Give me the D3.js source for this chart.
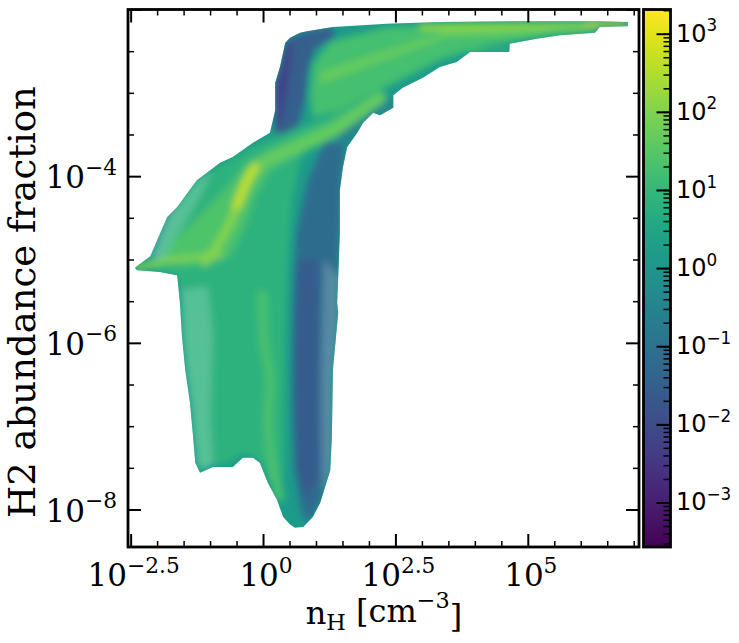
<!DOCTYPE html>
<html lang="en">
<head>
<meta charset="utf-8">
<title>H2 abundance fraction vs nH</title>
<script src="https://d3js.org/d3.v7.min.js"></script>
<style>
  body { margin: 0; background: #fff; }
  svg text { font-family: "DejaVu Serif", serif; fill: #000; }
  svg .cb text { font-family: "DejaVu Sans", sans-serif; }
</style>
</head>
<body>
<script>
// outlines of the 2d histogram as [log10 nH, log10 fH2]
const envelope = [[0.51,-2.34],[0.70,-2.28],[0.83,-2.26],[1.32,-2.21],[2.34,-2.17],[3.34,-2.15],[4.85,-2.14],[6.36,-2.14],[6.89,-2.15],[6.89,-2.20],[6.36,-2.21],[6.27,-2.28],[5.61,-2.31],[5.17,-2.35],[4.66,-2.41],[4.65,-2.51],[3.91,-2.51],[3.66,-2.63],[3.34,-2.69],[3.02,-2.82],[2.64,-2.94],[2.46,-3.03],[2.46,-3.18],[2.21,-3.27],[2.08,-3.24],[1.89,-3.36],[1.78,-3.48],[1.59,-3.65],[1.51,-3.89],[1.45,-4.17],[1.45,-4.68],[1.42,-5.21],[1.40,-5.52],[1.42,-5.64],[1.32,-6.32],[1.30,-7.13],[1.27,-7.53],[1.08,-7.92],[0.94,-8.09],[0.76,-8.21],[0.60,-8.22],[0.51,-8.18],[0.38,-8.09],[0.26,-7.88],[0.09,-7.68],[-0.06,-7.44],[-0.19,-7.38],[-0.38,-7.38],[-0.57,-7.49],[-0.94,-7.49],[-1.19,-7.56],[-1.28,-7.44],[-1.32,-7.13],[-1.38,-6.72],[-1.47,-6.32],[-1.53,-5.93],[-1.57,-5.52],[-1.62,-5.19],[-1.95,-5.15],[-2.38,-5.13],[-2.42,-5.10],[-2.13,-4.96],[-1.81,-4.49],[-1.62,-4.37],[-1.25,-4.05],[-1.06,-3.96],[-0.81,-3.84],[-0.57,-3.77],[-0.19,-3.60],[0.13,-3.48],[0.23,-3.21],[0.23,-2.88],[0.32,-2.69],[0.42,-2.40]];

const darkRight = [[1.17,-3.57],[1.55,-3.63],[1.49,-3.93],[1.45,-4.68],[1.42,-5.21],[1.42,-5.64],[1.32,-6.32],[1.30,-7.13],[1.27,-7.53],[1.08,-7.92],[0.94,-8.09],[0.79,-8.15],[0.70,-7.95],[0.60,-7.53],[0.55,-6.69],[0.57,-5.49],[0.64,-4.65],[0.85,-4.05]];
const darkCore = [[0.66,-5.01],[1.04,-5.01],[1.04,-7.64],[0.79,-7.88],[0.64,-7.52],[0.59,-6.09]];
const darkTop = [[0.42,-2.40],[0.51,-2.34],[0.70,-2.28],[0.83,-2.26],[1.32,-2.21],[1.36,-2.34],[0.98,-2.46],[0.85,-2.73],[0.79,-3.09],[0.66,-3.39],[0.42,-3.54],[0.25,-3.51],[0.23,-3.21],[0.23,-2.88],[0.32,-2.69]];
const darkEdge = [[0.42,-2.40],[0.55,-2.37],[0.51,-2.72],[0.42,-3.08],[0.32,-3.45],[0.23,-3.42],[0.23,-2.88],[0.32,-2.69]];
const rimUpper = [[2.46,-3.03],[2.46,-3.18],[2.21,-3.27],[1.89,-3.36],[1.78,-3.48],[1.59,-3.65],[1.36,-3.56],[1.64,-3.31],[2.12,-3.14]];
const greenMid = [[-2.32,-5.08],[-2.00,-4.98],[-1.85,-4.65],[-1.57,-4.29],[-1.19,-4.02],[-0.72,-3.83],[-0.19,-3.64],[0.23,-3.53],[0.70,-3.41],[1.27,-3.26],[1.83,-3.09],[2.17,-3.00],[2.02,-3.18],[1.55,-3.39],[0.98,-3.57],[0.70,-3.81],[0.55,-4.29],[0.47,-5.01],[0.42,-5.85],[0.40,-6.93],[0.38,-7.64],[0.28,-7.82],[0.09,-7.64],[-0.06,-7.43],[-0.25,-7.34],[-0.43,-7.34],[-0.59,-7.43],[-0.94,-7.47],[-1.19,-7.53],[-1.26,-7.41],[-1.30,-7.13],[-1.36,-6.72],[-1.45,-6.32],[-1.51,-5.93],[-1.55,-5.52],[-1.61,-5.22],[-1.95,-5.15]];
const greenBright = [[-1.95,-5.03],[-1.66,-4.77],[-1.19,-4.47],[-0.72,-4.17],[-0.34,-3.87],[0.13,-3.69],[0.70,-3.51],[1.27,-3.35],[1.83,-3.15],[2.12,-3.09],[1.93,-3.27],[1.36,-3.51],[0.70,-3.71],[0.13,-3.93],[-0.15,-4.23],[-0.34,-4.59],[-0.62,-4.95],[-0.91,-5.03],[-1.47,-5.08]];
const greenUpper = [[1.27,-2.38],[2.34,-2.21],[3.34,-2.18],[6.36,-2.17],[6.36,-2.21],[5.23,-2.33],[4.10,-2.45],[3.34,-2.61],[2.59,-2.85],[2.02,-3.03],[1.45,-3.21],[0.93,-3.30],[0.89,-3.03],[0.94,-2.66]];
const greenBand = [[1.08,-2.75],[2.21,-2.51],[3.53,-2.25],[3.34,-2.37],[2.21,-2.63],[1.08,-2.90]];
const streakLow = [[3.72,-2.47],[4.65,-2.47],[4.65,-2.51],[3.72,-2.52]];
const streakMid = [[3.34,-2.24],[6.27,-2.25],[6.27,-2.28],[3.34,-2.33]];
const streakTop = [[2.96,-2.17],[6.89,-2.15],[6.89,-2.19],[5.61,-2.22],[4.10,-2.24],[2.96,-2.25]];
const streakTip = [[6.08,-2.15],[6.89,-2.15],[6.89,-2.19],[6.08,-2.19]];
// thinly populated fringes, where gaps between cells show through
const sparseLeft = [[-1.53,-5.37],[-1.05,-5.33],[-0.95,-5.9],[-1.0,-6.9],[-0.94,-7.47],[-1.19,-7.53],[-1.26,-7.41],[-1.30,-7.13],[-1.36,-6.72],[-1.45,-6.32],[-1.51,-5.93]];
const sparseMid = [[-2.13,-4.96],[-1.81,-4.49],[-1.25,-4.05],[-0.95,-3.92],[-1.2,-4.25],[-1.6,-4.7],[-1.9,-5.02]];
const sparseRight = [[1.15,-5.0],[1.42,-5.21],[1.42,-5.64],[1.32,-6.32],[1.30,-7.13],[1.27,-7.53],[1.12,-7.8],[1.1,-6.5]];

// ridges of high counts, drawn as lines
const ridgeLeft = [[-2.38,-5.10],[-1.95,-5.03],[-1.38,-4.98],[-0.81,-4.95]];
const ridgeLower = [[-1.10,-5.03],[-0.94,-4.91],[-0.77,-4.73],[-0.62,-4.55],[-0.49,-4.35]];
const ridgeCore = [[-0.49,-4.35],[-0.34,-4.11],[-0.19,-3.93],[-0.02,-3.83]];
const ridgeUpper = [[-0.02,-3.83],[0.19,-3.77],[0.51,-3.69],[0.89,-3.59],[1.32,-3.46],[1.74,-3.27],[2.21,-3.06]];
const ridgeBottom = [[-0.02,-5.43],[0.02,-5.97],[0.13,-6.45],[0.09,-6.93],[0.19,-7.52],[0.32,-7.85]];

// counts per cell for each region (colour bar units)
const baseCount = 1.5;
const layerCounts = [0.07, 0.025, 0.03, 0.006, 0.3, 7, 25, 18, 45, 15, 50, 150, 1100];
const ridgeCounts = [90, 110, 450, 45, 22];

// ticks
const xMajor = [-2.5, 0, 2.5, 5];
const xMajorLabels = ["\u22122.5", "0", "2.5", "5"];
const xMinor = [-2, -1.5, -1, -0.5, 0.5, 1, 1.5, 2, 3, 3.5, 4, 4.5, 5.5, 6, 6.5, 7];
const yMajor = [-8, -6, -4, -2];
const yMajorLabels = ["\u22128", "\u22126", "\u22124", ""];
const yMinor = [-7.5, -7, -6.5, -5.5, -5, -4.5, -3.5, -3, -2.5];
const cbMajor = [-3, -2, -1, 0, 1, 2, 3];
const cbLabels = ["\u22123", "\u22122", "\u22121", "0", "1", "2", "3"];

const width = 739, height = 643;
const L = 128, R = 639, T = 9.5, B = 547;

const svg = d3.select("body").append("svg")
  .attr("width", width).attr("height", height);

const x = d3.scaleLog().domain([10 ** -2.55, 10 ** 7.1]).range([L, R]);
const y = d3.scaleLog().domain([10 ** -8.45, 10 ** -2]).range([B, T]);
const color = d3.scaleSequentialLog(d3.interpolateViridis)
  .domain([10 ** -3.57, 10 ** 3.31]);

const toXY = p => [x(10 ** p[0]), y(10 ** p[1])];
const closed = d3.line().curve(d3.curveLinearClosed);
const smooth = d3.line().curve(d3.curveCatmullRom);

const defs = svg.append("defs");
defs.append("clipPath").attr("id", "env")
  .append("path").attr("d", closed(envelope.map(toXY)));
defs.append("filter").attr("id", "soft")
  .attr("x", "-10%").attr("y", "-10%").attr("width", "120%").attr("height", "120%")
  .append("feGaussianBlur").attr("stdDeviation", 3.5);
defs.append("filter").attr("id", "edge")
  .append("feGaussianBlur").attr("stdDeviation", 0.7);

// base of histogram
svg.append("path")
  .attr("d", closed(envelope.map(toXY)))
  .attr("fill", color(baseCount))
  .attr("filter", "url(#edge)");

const inner = svg.append("g").attr("clip-path", "url(#env)")
  .append("g").attr("filter", "url(#soft)");

const layers = [darkRight, darkCore, darkTop, darkEdge, rimUpper, greenMid, greenBright,
  greenUpper, greenBand, streakLow, streakMid, streakTop, streakTip];

inner.selectAll("path.region")
  .data(layers)
  .join("path")
  .attr("class", "region")
  .attr("d", d => closed(d.map(toXY)))
  .attr("fill", (d, i) => color(layerCounts[i]));

inner.selectAll("path.sparse")
  .data([sparseLeft, sparseMid, sparseRight])
  .join("path")
  .attr("class", "sparse")
  .attr("d", d => closed(d.map(toXY)))
  .attr("fill", "#fff").attr("opacity", 0.2);

const ridges = [ridgeLeft, ridgeLower, ridgeCore, ridgeUpper, ridgeBottom];
const ridgeWidth = [6, 8, 9, 12, 9];
inner.selectAll("path.ridge")
  .data(ridges)
  .join("path")
  .attr("class", "ridge")
  .attr("d", d => smooth(d.map(toXY)))
  .attr("fill", "none")
  .attr("stroke", (d, i) => color(ridgeCounts[i]))
  .attr("stroke-width", (d, i) => ridgeWidth[i])
  .attr("stroke-linecap", "round");

// axes, ticks inward on all four sides
const xl = d3.scaleLinear().domain([-2.55, 7.1]).range([L, R]);
const yl = d3.scaleLinear().domain([-8.45, -2]).range([B, T]);

function ticks(axis, vals, size, w) {
  return g => {
    g.call(axis.tickValues(vals).tickSize(size).tickFormat(""));
    g.select(".domain").remove();
    g.selectAll("line").attr("stroke", "#000").attr("stroke-width", w);
  };
}
svg.append("g").attr("transform", `translate(0,${B})`).call(ticks(d3.axisBottom(xl), xMajor, -13, 2));
svg.append("g").attr("transform", `translate(0,${B})`).call(ticks(d3.axisBottom(xl), xMinor, -6, 1.5));
svg.append("g").attr("transform", `translate(0,${T})`).call(ticks(d3.axisTop(xl), xMajor, -13, 2));
svg.append("g").attr("transform", `translate(0,${T})`).call(ticks(d3.axisTop(xl), xMinor, -6, 1.5));
svg.append("g").attr("transform", `translate(${L},0)`).call(ticks(d3.axisLeft(yl), yMajor, -13, 2));
svg.append("g").attr("transform", `translate(${L},0)`).call(ticks(d3.axisLeft(yl), yMinor, -6, 1.5));
svg.append("g").attr("transform", `translate(${R},0)`).call(ticks(d3.axisRight(yl), yMajor, -13, 2));
svg.append("g").attr("transform", `translate(${R},0)`).call(ticks(d3.axisRight(yl), yMinor, -6, 1.5));

svg.append("rect")
  .attr("x", L).attr("y", T).attr("width", R - L).attr("height", B - T)
  .attr("fill", "none").attr("stroke", "#000").attr("stroke-width", 2.8);

function power(sel, exp) {
  sel.append("tspan").text("10");
  sel.append("tspan").attr("dy", "-0.62em").attr("font-size", "0.7em").text(exp);
}

xMajor.forEach((v, i) => {
  svg.append("text")
    .attr("x", xl(v) + 3).attr("y", 586)
    .attr("text-anchor", "middle").attr("font-size", 31)
    .call(power, xMajorLabels[i]);
});
yMajor.forEach((v, i) => {
  if (!yMajorLabels[i]) return;
  svg.append("text")
    .attr("x", 117).attr("y", yl(v) + 12)
    .attr("text-anchor", "end").attr("font-size", 31)
    .call(power, yMajorLabels[i]);
});

svg.append("text")
  .attr("transform", "translate(35,302) rotate(-90)")
  .attr("text-anchor", "middle").attr("font-size", 37)
  .text("H2 abundance fraction");

const xt = svg.append("text")
  .attr("x", 384).attr("y", 624)
  .attr("text-anchor", "middle").attr("font-size", 32);
xt.append("tspan").text("n");
xt.append("tspan").attr("dy", "0.25em").attr("font-size", "0.7em").text("H");
xt.append("tspan").attr("dy", "-0.25em").text(" [cm");
xt.append("tspan").attr("dy", "-0.6em").attr("font-size", "0.7em").text("\u22123");
xt.append("tspan").attr("dy", "0.6em").text("]");

// colour bar
const cbL = 643.5, cbR = 670.5;
const cb = d3.scaleLog().domain(color.domain()).range([B, T]);
const grad = defs.append("linearGradient").attr("id", "vir")
  .attr("x1", 0).attr("y1", 1).attr("x2", 0).attr("y2", 0);
grad.selectAll("stop")
  .data(d3.range(0, 1.0001, 0.05))
  .join("stop")
  .attr("offset", d => d)
  .attr("stop-color", d => d3.interpolateViridis(d));

const cbg = svg.append("g").attr("class", "cb");
cbg.append("rect")
  .attr("x", cbL).attr("y", T).attr("width", cbR - cbL).attr("height", B - T)
  .attr("fill", "url(#vir)");

const cbTicks = cb.ticks();
cbg.append("g").attr("transform", `translate(${cbR},0)`)
  .call(ticks(d3.axisRight(cb), cbTicks, -7, 1.5));
cbg.append("g").attr("transform", `translate(${cbR},0)`)
  .call(ticks(d3.axisRight(cb), cbMajor.map(v => 10 ** v), -14, 2));

cbg.append("rect")
  .attr("x", cbL).attr("y", T).attr("width", cbR - cbL).attr("height", B - T)
  .attr("fill", "none").attr("stroke", "#000").attr("stroke-width", 2.8);

cbMajor.forEach((v, i) => {
  cbg.append("text")
    .attr("x", 676).attr("y", cb(10 ** v) + 8)
    .attr("font-size", 24)
    .call(power, cbLabels[i]);
});
</script>
</body>
</html>
